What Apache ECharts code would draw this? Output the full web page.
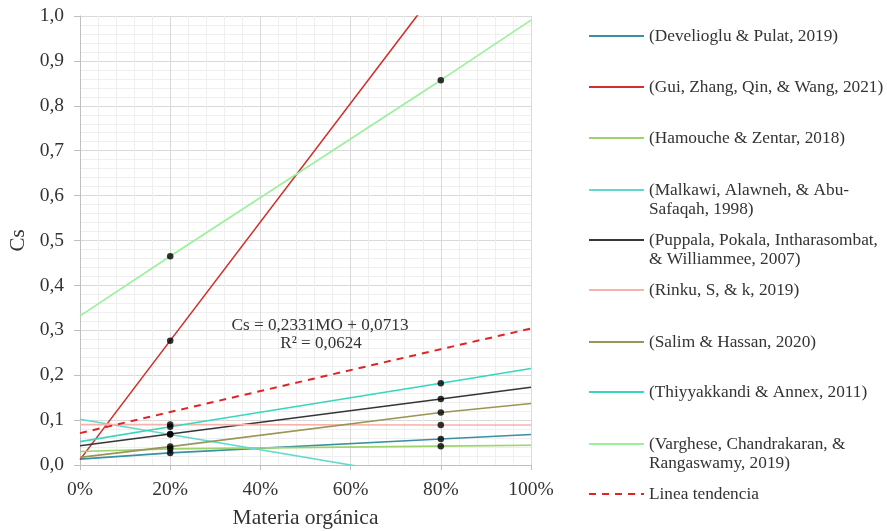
<!DOCTYPE html>
<html><head><meta charset="utf-8">
<script src="https://cdn.jsdelivr.net/npm/echarts@6/dist/echarts.min.js"></script>
<style>html,body{margin:0;padding:0;background:#fff}#chart{width:887px;height:531px}</style>
</head><body><div id="chart"></div>
<script>
// ---- data ----
const xPositions = [0, 0.2, 0.8, 1];
const develioglu   = [0.013, 0.027, 0.058, 0.068];
const gui          = [0.012, 0.277, 1.070, 1.335];
const hamouche     = [0.030, 0.036, 0.042, 0.044];
const malkawi      = [0.102, 0.068, -0.034, -0.068];
const puppala      = [0.043, 0.069, 0.147, 0.173];
const rinku        = [0.090, 0.090, 0.089, 0.089];
const salim        = [0.017, 0.041, 0.117, 0.137];
const thiyyakkandi = [0.052, 0.085, 0.182, 0.215];
const varghese     = [0.332, 0.465, 0.857, 0.991];
const trendLine    = [0.071, 0.118, 0.258, 0.304];

const seriesNames = [
  '(Develioglu & Pulat, 2019)',
  '(Gui, Zhang, Qin, & Wang, 2021)',
  '(Hamouche & Zentar, 2018)',
  '(Malkawi, Alawneh, & Abu-Safaqah, 1998)',
  '(Puppala, Pokala, Intharasombat, & Williammee, 2007)',
  '(Rinku, S, & k, 2019)',
  '(Salim & Hassan, 2020)',
  '(Thiyyakkandi & Annex, 2011)',
  '(Varghese, Chandrakaran, & Rangaswamy, 2019)'
];
const legendLabels = [
  '(Develioglu & Pulat, 2019)',
  '(Gui, Zhang, Qin, & Wang, 2021)',
  '(Hamouche & Zentar, 2018)',
  '(Malkawi, Alawneh, & Abu-\nSafaqah, 1998)',
  '(Puppala, Pokala, Intharasombat,\n& Williammee, 2007)',
  '(Rinku, S, & k, 2019)',
  '(Salim & Hassan, 2020)',
  '(Thiyyakkandi & Annex, 2011)',
  '(Varghese, Chandrakaran, &\nRangaswamy, 2019)',
  'Linea tendencia'
];
const trendName = 'Linea tendencia';
const seriesValues = [develioglu, gui, hamouche, malkawi, puppala, rinku, salim, thiyyakkandi, varghese];
const xTickLabels = ['0%', '20%', '40%', '60%', '80%', '100%'];
const yTickLabels = ['0,0','0,1','0,2','0,3','0,4','0,5','0,6','0,7','0,8','0,9','1,0'];
const xAxisTitle = 'Materia orgánica';
const yAxisTitle = 'Cs';
const trendEquation = 'Cs = 0,2331MO + 0,0713';
const trendR2 = 'R² = 0,0624';

// ---- styles ----
const seriesColors = ['#3A8FA3', '#D0312D', '#9CD46B', '#62DACB', '#363636', '#F7B2AC', '#999655', '#36D7BC', '#9BF09B'];
const trendColor = '#E02424';
const FONT = '"Liberation Serif", "Times New Roman", serif';
const TXT = '#333333';
const legendCenters = [36, 87, 138, 190, 240, 290, 342, 392, 444, 494];
const LH = 19;

const chart = echarts.init(document.getElementById('chart'), null, {renderer: 'canvas'});

const series = seriesValues.map((arr, k) => ({
  name: seriesNames[k],
  type: 'line',
  data: xPositions.map((x, i) => [x, arr[i]]),
  symbol: 'none',
  clip: true,
  lineStyle: {color: seriesColors[k], width: 1.6},
  itemStyle: {color: seriesColors[k]},
  emphasis: {disabled: true},
  z: 3
}));
series.push({
  name: trendName,
  type: 'line',
  data: xPositions.map((x, i) => [x, trendLine[i]]),
  symbol: 'none',
  clip: true,
  lineStyle: {color: trendColor, width: 2, type: [7, 6]},
  itemStyle: {color: trendColor},
  emphasis: {disabled: true},
  z: 3
});
const dots = [];
seriesValues.forEach(arr => { [1, 2].forEach(i => dots.push([xPositions[i], arr[i]])); });
series.push({
  name: 'datos',
  type: 'scatter',
  data: dots,
  symbolSize: 6.5,
  clip: true,
  itemStyle: {color: '#000000'},
  emphasis: {disabled: true},
  z: 5
});

const allNames = seriesNames.concat([trendName]);
const legends = allNames.map((n, k) => {
  const twoLines = legendLabels[k].indexOf('\n') >= 0;
  return {
    data: [n],
    left: 588,
    top: twoLines ? legendCenters[k] - 1.5 * LH : legendCenters[k] - LH / 2,
    orient: 'vertical',
    padding: 0,
    itemWidth: 55,
    itemHeight: 1,
    itemGap: 6,
    selectedMode: false,
    itemStyle: {opacity: 0},
    formatter: () => (twoLines ? '\n' : '') + legendLabels[k],
    textStyle: {fontFamily: FONT, fontSize: 17.3, color: TXT, lineHeight: LH}
  };
});

chart.setOption({
  backgroundColor: '#ffffff',
  animation: false,
  grid: {left: 80, right: 356, top: 16, bottom: 66, containLabel: false, outerBoundsMode: 'none'},
  legend: legends,
  xAxis: {
    type: 'value', min: 0, max: 1, interval: 0.2,
    name: xAxisTitle, nameLocation: 'middle', nameGap: 42,
    nameTextStyle: {fontFamily: FONT, fontSize: 21.5, color: TXT},
    axisLabel: {
      formatter: v => xTickLabels[Math.round(v / 0.2)],
      fontFamily: FONT, fontSize: 19.5, color: TXT, margin: 15
    },
    axisLine: {show: true, lineStyle: {color: '#BFBFBF', width: 1}},
    axisTick: {show: true, length: 5, lineStyle: {color: '#BFBFBF'}},
    splitLine: {show: true, lineStyle: {color: '#D9D9D9', width: 1}},
    minorTick: {show: false, splitNumber: 5},
    minorSplitLine: {show: true, lineStyle: {color: '#EFEFEF', width: 1}}
  },
  yAxis: {
    type: 'value', min: 0, max: 1, interval: 0.1,
    name: yAxisTitle, nameLocation: 'middle', nameGap: 43,
    nameTextStyle: {fontFamily: FONT, fontSize: 21, color: TXT},
    axisLabel: {
      formatter: v => yTickLabels[Math.round(v / 0.1)],
      fontFamily: FONT, fontSize: 19.5, color: TXT, margin: 16
    },
    axisLine: {show: true, lineStyle: {color: '#BFBFBF', width: 1}},
    axisTick: {show: true, length: 6, lineStyle: {color: '#BFBFBF'}},
    splitLine: {show: true, lineStyle: {color: '#D9D9D9', width: 1}},
    minorTick: {show: false, splitNumber: 5},
    minorSplitLine: {show: true, lineStyle: {color: '#EFEFEF', width: 1}}
  },
  graphic: [
    {type: 'text', x: 320, y: 325, z: 10,
     style: {text: trendEquation, font: '17.2px ' + FONT, fill: TXT, align: 'center', verticalAlign: 'middle'}},
    {type: 'text', x: 321, y: 344, z: 10,
     style: {text: trendR2, font: '17px ' + FONT, fill: TXT, align: 'center', verticalAlign: 'middle'}}
  ],
  series: series
});
</script></body></html>
